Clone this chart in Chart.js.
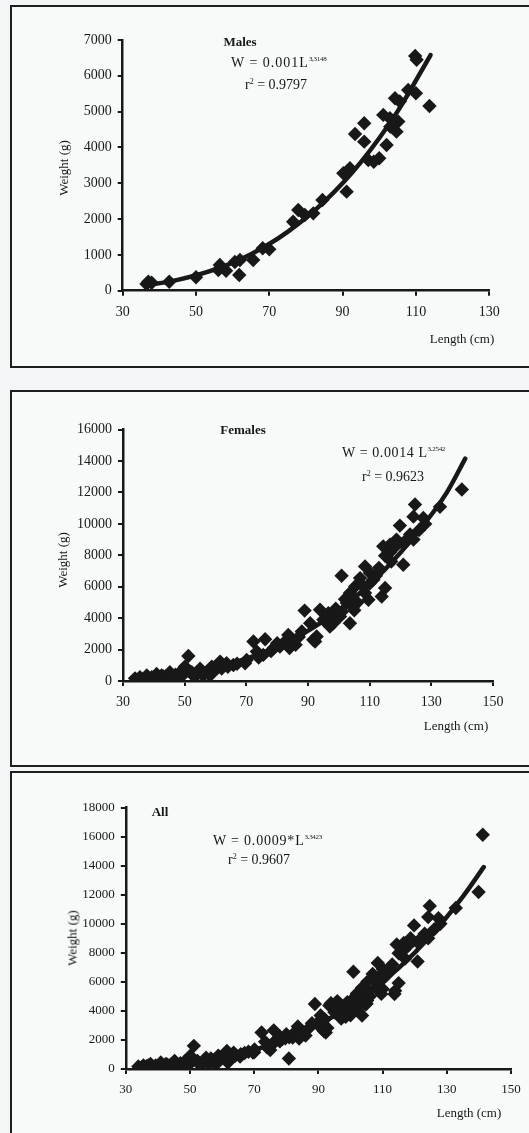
<!DOCTYPE html>
<html>
<head>
<meta charset="utf-8">
<script src="https://cdn.jsdelivr.net/npm/chart.js@4.4.1/dist/chart.umd.min.js"></script>
<style>
  html, body { margin: 0; padding: 0; }
  body {
    width: 529px; height: 1133px; position: relative; overflow: hidden;
    background: #f3f6f7; color: #161616;
    font-family: "Liberation Serif", "Times New Roman", serif;
  }
  .panel { position: absolute; left: 10px; width: 600px; border: 2px solid #1e1e1e; background: #f8fafa; box-sizing: border-box; }
  canvas { position: absolute; left: 0; }
  .t { position: absolute; white-space: nowrap; line-height: 1; }
  .c { transform: translate(-50%, -50%); }
  .l { transform: translate(0, -50%); }
  .rot { transform: translate(-50%, -50%) rotate(-90deg); }
  .eq { font-size: 14px; }
  .eq sup { font-size: 7px; vertical-align: 6px; letter-spacing: -0.3px; }
  .r2 sup { font-size: 8px; vertical-align: 5px; letter-spacing: 0; }
  .name { font-size: 13px; font-weight: bold; }
  .axt { font-size: 13px; }
</style>
</head>
<body>

<div class="panel" style="top:5px;height:363px;"></div>
<div class="panel" style="top:390px;height:377px;"></div>
<div class="panel" style="top:771px;height:420px;"></div>

<canvas id="males" width="529" height="372" style="top:0px;"></canvas>
<canvas id="females" width="529" height="380" style="top:380px;"></canvas>
<canvas id="all" width="529" height="373" style="top:760px;"></canvas>

<!-- Males -->
<div class="t c name" style="left:240px;top:41px;">Males</div>
<div class="t l eq" style="left:231px;top:63px;letter-spacing:1px;">W = 0.001L<sup>3,3148</sup></div>
<div class="t l eq r2" style="left:245px;top:85px;">r<sup>2</sup> = 0.9797</div>
<div class="t c axt" style="left:462px;top:338px;">Length (cm)</div>
<div class="t rot axt" style="left:63px;top:168px;">Weight (g)</div>

<!-- Females -->
<div class="t c name" style="left:243px;top:429px;">Females</div>
<div class="t l eq" style="left:342px;top:453px;letter-spacing:0.6px;">W = 0.0014 L<sup>3.2542</sup></div>
<div class="t l eq r2" style="left:362px;top:477px;">r<sup>2</sup> = 0.9623</div>
<div class="t c axt" style="left:456px;top:725px;">Length (cm)</div>
<div class="t rot axt" style="left:62px;top:560px;">Weight (g)</div>

<!-- All -->
<div class="t c name" style="left:160px;top:811px;">All</div>
<div class="t l eq" style="left:213px;top:841px;letter-spacing:0.8px;">W = 0.0009*L<sup>3.3423</sup></div>
<div class="t l eq r2" style="left:228px;top:860px;">r<sup>2</sup> = 0.9607</div>
<div class="t c axt" style="left:469px;top:1112px;">Length (cm)</div>
<div class="t rot axt" style="left:72px;top:938px;">Weight (g)</div>

<script>
// ─── Data (length cm, weight g) ───────────────────────────────────

const malesL = [36.5, 37.9, 37.0, 42.7, 50.0, 56.1, 58.2, 56.5, 61.8, 62.0, 60.6, 65.6, 68.2, 70.0,
  76.5, 77.9, 79.7, 82.0, 84.5, 91.1, 90.2, 92.0, 93.4, 95.9, 95.9, 97.0, 100.0, 102.0, 101.1,
  102.9, 104.7, 104.3, 105.6, 105.2, 107.9, 110.0, 109.8, 110.2, 113.7, 98.5, 103.0];
const malesW = [187, 220, 250, 251, 374, 578, 559, 718, 439, 858, 800, 858, 1184, 1155,
  1927, 2254, 2114, 2160, 2533, 2765, 3279, 3419, 4377, 4676, 4162, 3651, 3697, 4070, 4908,
  4815, 4441, 5374, 5281, 4722, 5606, 5513, 6556, 6450, 5159, 3600, 4580];

const femalesL = [33.9, 35.5, 36.5, 37.7, 38.5, 39.3, 40.9, 41.5, 42.5, 44.0, 45.2, 46.3, 48.5, 50.1,
  51.2, 52.3, 54.0, 55.0, 56.0, 57.5, 58.2, 58.8, 60.5, 61.5, 63.6, 65.8, 69.6, 70.1, 72.3, 73.4,
  75.5, 76.1, 78.8, 80.9, 82.5, 83.6, 85.2, 88.0, 88.9, 90.7, 91.7, 92.3, 92.8, 93.9, 95.0, 96.6,
  97.1, 98.2, 98.2, 100.4, 100.9, 102.6, 103.6, 103.6, 104.7, 105.3, 106.9, 108.5, 108.5, 109.6,
  110.1, 111.2, 113.9, 115.0, 114.4, 115.0, 116.6, 116.6, 118.7, 119.8, 120.9, 123.1, 124.2, 124.2,
  124.7, 127.4, 132.8, 139.9,
  96.0, 99.0, 101.0, 102.0, 105.0, 106.0, 107.0, 110.0, 112.0, 113.0, 117.0, 118.0, 121.0, 122.0,
  126.0, 128.0, 87.0, 86.0, 84.0, 80.0, 78.0, 74.0, 67.0, 64.0, 62.0, 59.0, 53.0, 49.0, 47.0, 43.0,
  36.0, 35.0];
const femalesW = [170, 240, 100, 350, 150, 240, 450, 200, 350, 300, 560, 240, 560, 915,
  1595, 560, 400, 775, 350, 600, 350, 915, 800, 1235, 1130, 1020, 1130, 1340, 2510, 1870,
  1660, 2660, 2085, 2190, 2500, 2935, 2510, 3150, 4480, 3680, 2620, 2510, 2830, 4530, 3900, 4320,
  3470, 3680, 4320, 4110, 6700, 4960, 5600, 3680, 4740, 6020, 6550, 7295, 5600, 5170,
  6870, 6450, 5380, 5915, 8570, 7970, 8190, 8680, 9000, 9890, 7400, 9320, 9000, 10460,
  11230, 10380, 11085, 12190,
  4000, 4600, 4400, 5200, 4500, 5000, 6200, 6200, 6700, 7200, 7600, 8500, 8700, 9000,
  9600, 10000, 2800, 2300, 2100, 2400, 1900, 1500, 1100, 900, 800, 700, 300, 300, 400, 300,
  50, 120];

// points seen only in the pooled plot
const extraL = [141.2, 80.8, 75.0];
const extraW = [16130, 720, 1310];

const allL = [...malesL, ...femalesL, ...extraL];
const allW = [...malesW, ...femalesW, ...extraW];

// fitted curves
const maleFitL = [36.5, 45, 55, 65, 75, 85, 95, 105, 114];
const maleFitW = [150, 302, 587, 1021, 1642, 2486, 3592, 5007, 6580];
const femaleFitL = [35, 45, 55, 65, 75, 85, 95, 105, 115, 125, 135, 141];
const femaleFitW = [148, 336, 645, 1111, 1770, 2659, 3818, 5288, 7108, 9327, 11991, 14150];
const allFitL = [35, 45, 55, 65, 75, 85, 95, 105, 115, 125, 135, 141.5];
const allFitW = [130, 302, 590, 1031, 1664, 2529, 3668, 5124, 6946, 9180, 11870, 13900];

// ─── Charts ──────────────────────────────────────────────────────

const ink = '#181818';
const pairs = (xs, ys) => xs.map((x, i) => ({ x: x, y: ys[i] }));

function makeChart(id, cfg) {
    const font = { family: '"Liberation Serif", "Times New Roman", serif', size: cfg.fontSize };
    new Chart(document.getElementById(id), {
        type: 'scatter',
        data: {
            datasets: [
                {
                    data: pairs(cfg.fitL, cfg.fitW),
                    showLine: true,
                    pointRadius: 0,
                    borderColor: ink,
                    borderWidth: 4.5,
                    cubicInterpolationMode: 'monotone',
                    borderCapStyle: 'round'
                },
                {
                    data: pairs(cfg.xs, cfg.ys),
                    pointStyle: 'rectRot',
                    pointRadius: 7.2,
                    pointHoverRadius: 7.2,
                    backgroundColor: ink,
                    borderWidth: 0
                }
            ]
        },
        options: {
            responsive: false,
            animation: false,
            events: [],
            layout: { padding: cfg.padding },
            plugins: { legend: { display: false }, tooltip: { enabled: false } },
            scales: {
                x: {
                    type: 'linear', min: cfg.xMin, max: cfg.xMax,
                    afterFit: s => { s.height = 40; },
                    grid: { drawOnChartArea: false, drawTicks: true, tickLength: 5, color: ink, lineWidth: 2 },
                    border: { display: true, color: ink, width: 2.5 },
                    ticks: { stepSize: 20, color: ink, font: font, padding: 8, maxRotation: 0, callback: v => String(v) }
                },
                y: {
                    type: 'linear', min: 0, max: cfg.yMax,
                    afterFit: s => { s.width = cfg.yWidth; },
                    grid: { drawOnChartArea: false, drawTicks: true, tickLength: 5, color: ink, lineWidth: 2 },
                    border: { display: true, color: ink, width: 2.5 },
                    ticks: { stepSize: cfg.yStep, color: ink, font: font, padding: 6, callback: v => String(v) }
                }
            }
        }
    });
}

makeChart('males', {
    xs: malesL, ys: malesW, fitL: maleFitL, fitW: maleFitW,
    xMin: 30, xMax: 130, yMax: 7000, yStep: 1000, fontSize: 14,
    yWidth: 122.7, padding: { top: 40, right: 39.8, bottom: 41.3, left: 0 }
});

makeChart('females', {
    xs: femalesL, ys: femalesW, fitL: femaleFitL, fitW: femaleFitW,
    xMin: 30, xMax: 150, yMax: 16000, yStep: 2000, fontSize: 14,
    yWidth: 123, padding: { top: 49.6, right: 36, bottom: 39, left: 0 }
});

makeChart('all', {
    xs: allL, ys: allW, fitL: allFitL, fitW: allFitW,
    xMin: 30, xMax: 150, yMax: 18000, yStep: 2000, fontSize: 13,
    yWidth: 125.8, padding: { top: 47.6, right: 18, bottom: 24, left: 0 }
});
</script>
</body>
</html>
